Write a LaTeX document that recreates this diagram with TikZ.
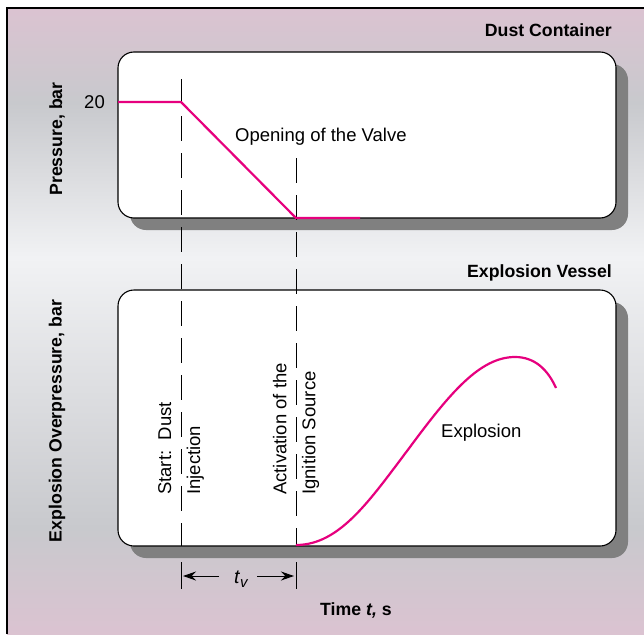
\documentclass[tikz,border=0pt]{standalone}
\usepackage{fontspec}
\setmainfont{Liberation Sans}
\usetikzlibrary{arrows.meta,shadows}

\definecolor{curvepink}{RGB}{230,0,126}
\definecolor{bgpink}{RGB}{219,195,209}
\definecolor{bggray}{RGB}{200,201,205}
\definecolor{bglight}{RGB}{241,242,244}
\definecolor{shadowgray}{RGB}{128,128,128}

\pgfdeclareverticalshading{backdrop}{100bp}{color(0bp)=(bgpink); color(25bp)=(bgpink);
  color(33.5bp)=(bggray); color(55.1bp)=(bglight); color(67.4bp)=(bggray);
  color(75bp)=(bgpink); color(100bp)=(bgpink)}

\tikzset{
  panel/.style={draw=black, line width=1.1pt, fill=white, rounded corners=16pt,
    minimum width=498pt, inner sep=0pt,
    drop shadow={shadow xshift=12pt, shadow yshift=-12pt, fill=shadowgray, opacity=1}},
  curve/.style={curvepink, line width=2.2pt},
  marker/.style={black, line width=1pt, dash pattern=on 25pt off 12pt},
  dimline/.style={black, line width=1pt},
  dimarrow/.style={black, line width=1pt, -{Stealth[length=13pt,width=9pt]}},
  lbl/.style={font=\fontsize{18.5}{29}\selectfont, inner sep=0pt},
  ttl/.style={font=\fontsize{17.7}{21}\selectfont\bfseries, inner sep=0pt}
}

\begin{document}
\begin{tikzpicture}[x=1pt,y=-1pt]
    \useasboundingbox (0,0) rectangle (644,634);
    \shade[shading=backdrop] (7,8) rectangle (644,634);
    \draw[line width=1.2pt] (7,634) -- (7,8) -- (644,8);

    \node[panel, minimum height=166pt] (dust) at (367,135) {};
    \node[panel, minimum height=256pt] (vessel) at (367,418) {};

    \coordinate (inj top) at (181,79);
    \coordinate (inj bot) at (181,546);
    \coordinate (ign top) at (296,158);
    \coordinate (ign bot) at (296,546);
    \draw[marker] (inj top) -- (inj bot);
    \draw[marker] (ign top) -- (ign bot);

    \coordinate (p0) at (118,102);
    \coordinate (p1) at (181,102);
    \coordinate (p2) at (296,218);
    \coordinate (p3) at (360,218);
    \draw[curve] (p0) -- (p1) -- (p2) -- (p3);

    \coordinate (e0) at (296,545);
    \coordinate (e1) at (410,447);
    \coordinate (e2) at (515,357);
    \coordinate (e3) at (556,388);
    \draw[curve] (e0) .. controls (340,545) and (370,500) .. (e1)
        .. controls (450,393) and (480,357) .. (e2)
        .. controls (535,357) and (548,370) .. (e3);

    \node[ttl, anchor=base east] (dusttitle) at (612,37) {Dust Container};
    \node[ttl, anchor=base east] (vesseltitle) at (612,277) {Explosion Vessel};
    \node[ttl, rotate=90] (pylabel) at (57,139) {Pressure, bar};
    \node[ttl, rotate=90] (eylabel) at (57,421) {Explosion Overpressure, bar};
    \node[ttl, anchor=base west] (xlabel) at (320,615) {Time \textit{t,} s};

    \node[lbl, anchor=east] (twenty) at (105,102) {20};
    \node[lbl, anchor=base west] (valve) at (235,141) {Opening of the Valve};
    \node[lbl, anchor=base west] (expl) at (441,437) {Explosion};
    \node[lbl, rotate=90, anchor=west, align=left] (start) at (181,495)
        {Start:\ \ Dust\\Injection};
    \node[lbl, rotate=90, anchor=west, align=left] (activ) at (296,495)
        {Activation of the\\Ignition Source};

    \coordinate (tv1t) at (181,562);
    \coordinate (tv1b) at (181,589);
    \coordinate (tv2t) at (296,562);
    \coordinate (tv2b) at (296,589);
    \draw[dimline] (tv1t) -- (tv1b);
    \draw[dimline] (tv2t) -- (tv2b);
    \node[lbl, anchor=base west] (tv) at (234,583)
        {\fontsize{19.5}{20}\selectfont\itshape t\kern0.5pt\raisebox{-4.5pt}{\fontsize{15}{16}\selectfont v}};
    \coordinate (tvls) at (219,576);
    \coordinate (tvl) at (183,576);
    \coordinate (tvrs) at (257,576);
    \coordinate (tvr) at (294,576);
    \draw[dimarrow] (tvls) -- (tvl);
    \draw[dimarrow] (tvrs) -- (tvr);
\end{tikzpicture}
\end{document}
